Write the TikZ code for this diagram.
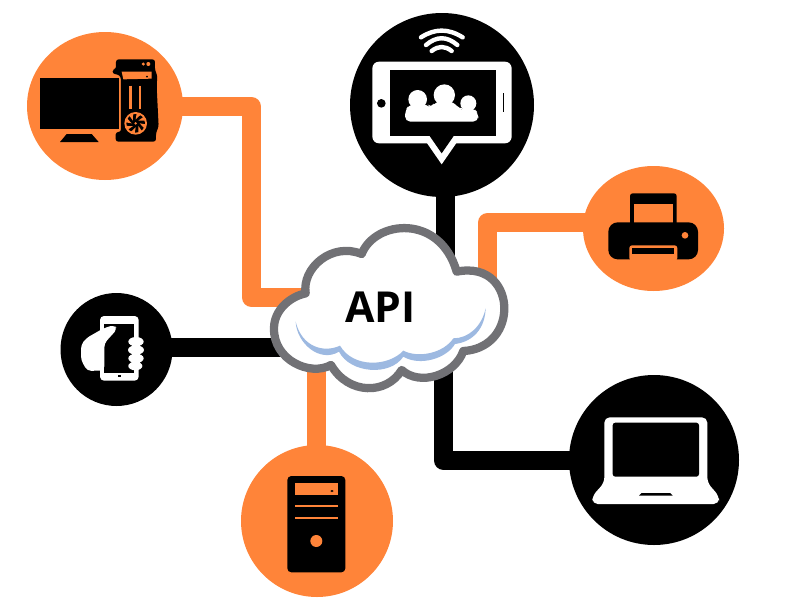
\documentclass[tikz,border=0pt]{standalone}
\usepackage{fontspec}
\setmainfont{Open Sans}
\usetikzlibrary{shapes.geometric,backgrounds}
\definecolor{apiorange}{HTML}{FF8439}
\definecolor{apigrey}{HTML}{717175}
\definecolor{apiblue}{HTML}{9DB9E1}
\tikzset{
  hub/.style={ellipse,inner sep=0pt,outer sep=0pt},
  hubo/.style={hub,fill=apiorange},
  hubk/.style={hub,fill=black},
  conn/.style={line width=14.25pt,line join=round},
  conno/.style={conn,draw=apiorange},
  connk/.style={conn,draw=black},
  zoomed/.style={scale=1/3},
  cloudline/.style={draw=apigrey,fill=white,line width=6.2pt,line join=round},
}
\begin{document}
\begin{tikzpicture}[x=0.75pt,y=-0.75pt]
\useasboundingbox (0,0) rectangle (800,600);

% device circles
\node[hubo,minimum width=117pt,minimum height=111pt] (desk) at (105,106) {};
\node[hubk,minimum width=138pt,minimum height=138pt] (tablet) at (442,105) {};
\node[hubo,minimum width=105.75pt,minimum height=93.75pt] (printer) at (653.5,228.5) {};
\node[hubk,minimum width=84pt,minimum height=84.75pt] (phone) at (116.5,349.5) {};
\node[hubo,minimum width=114pt,minimum height=114pt] (tower) at (317,521) {};
\node[hubk,minimum width=127.5pt,minimum height=127.5pt] (laptop) at (654,460) {};

% cloud ports and bends
\coordinate (bendA) at (251.5,106.5);
\coordinate (portA) at (330,297.5);
\coordinate (portB) at (320,347.5);
\coordinate (bendC) at (487.5,222.5);
\coordinate (portC) at (487.5,300);
\coordinate (portD) at (445.5,260);
\coordinate (portE) at (443.5,370);
\coordinate (bendE) at (443.5,460.5);
\coordinate (portF) at (316.5,360);

\begin{scope}[on background layer]
\draw[conno] (desk.center |- bendA) -- (bendA) -- (bendA |- portA) -- (portA);
\draw[connk] (phone.center |- portB) -- (portB);
\draw[conno] (printer.center |- bendC) -- (bendC) -- (portC);
\draw[connk] (tablet.center -| portD) -- (portD);
\draw[connk] (portE) -- (bendE) -- (laptop.center |- bendE);
\draw[conno] (tower.center -| portF) -- (portF);
\end{scope}

% cloud
\begin{scope}[shift={(260,210)},zoomed]
\path[cloudline] (137,250)
  .. controls (125,175) and (215,95) .. (305,132)
  .. controls (345,30) and (540,10) .. (590,185)
  .. controls (690,165) and (735,235) .. (733,300)
  .. controls (730,370) and (680,420) .. (610,423)
  .. controls (585,495) and (480,530) .. (425,480)
  .. controls (380,555) and (265,555) .. (213,465)
  .. controls (150,500) and (40,450) .. (42,355)
  .. controls (42,300) and (90,260) .. (137,250) -- cycle;
\fill[apiblue] (107,335)
  .. controls (110,400) and (180,460) .. (237,425)
  .. controls (270,490) and (390,500) .. (430,440)
  .. controls (480,470) and (560,445) .. (585,402)
  .. controls (640,395) and (675,355) .. (677,295)
  .. controls (665,350) and (625,385) .. (580,385)
  .. controls (550,430) and (475,445) .. (430,422)
  .. controls (385,470) and (280,475) .. (240,407)
  .. controls (190,430) and (125,410) .. (107,335) -- cycle;
\end{scope}
\node[inner sep=0pt,font=\bfseries\fontsize{32}{38}\selectfont] (api) at (380.7,307.3) {API};

% desktop icon
\begin{scope}[shift={(20,20)},zoomed]
\fill (60,175) rectangle (297,328);
\fill (120,366) -- (140,342) -- (215,342) -- (236,366) -- cycle;
\fill[rounded corners=2pt] (278,162) -- (278,148) -- (288,148) -- (288,118) -- (405,118) -- (405,152) -- (412,165) -- (410,200) -- (416,320) -- (408,338) -- (408,365) -- (287,365) -- (287,336) -- (303,336) -- (303,172) -- (295,163) -- cycle;
\fill[apiorange] (305,155) -- (395,155) -- (395,176) -- (310,178) -- cycle;
\fill (381,170) circle (3);
\fill[apiorange] (370,132) circle (5) (385,132) circle (6);
\draw[apiorange,line width=2pt] (332,197) -- (332,268) (360,197) -- (360,268);
\fill[apiorange] (347,310) circle (34);
\fill (347,310) circle (28);
\foreach \a in {0,45,...,315}{
  \fill[apiorange,rotate around={\a:(347,310)}] (347,298) -- (350,280) -- (362,284) -- cycle;
}
\fill[apiorange] (347,310) circle (4);
\end{scope}

% tablet icon
\begin{scope}[shift={(340,5)},zoomed]
\fill[white,rounded corners=5pt] (97,170) rectangle (515,415);
\fill[white] (258,410) -- (305,478) -- (352,410) -- cycle;
\fill (150,195) rectangle (468,393);
\fill (269,393) -- (305,445) -- (341,393) -- cycle;
\fill (124,295) circle (13);
\draw[line width=1pt] (491,265) -- (491,322);
\fill[white] (313,270) circle (32) (233,283) circle (28) (385,295) circle (24);
\fill[white,rounded corners=4pt] (195,350) -- (195,318) -- (208,298) -- (262,298) -- (274,310) -- (285,290) -- (342,290) -- (358,315) -- (368,310) -- (402,310) -- (415,325) -- (415,350) -- cycle;
\draw[white,line width=3.3pt,line cap=round] (243,97) .. controls (285,70) and (325,70) .. (368,97);
\draw[white,line width=3.3pt,line cap=round] (258,120) .. controls (290,93) and (320,93) .. (352,120);
\draw[white,line width=3.3pt,line cap=round] (275,138) .. controls (295,122) and (315,122) .. (335,138);
\end{scope}

% printer icon
\begin{scope}[shift={(570,160)},zoomed]
\fill[rounded corners=2pt] (180,100) rectangle (320,200);
\fill[apiorange] (192,133) rectangle (308,190);
\fill[rounded corners=7pt] (115,187) rectangle (384,298);
\fill[apiorange,rounded corners=2pt] (178,256) rectangle (322,302);
\fill (187,264) rectangle (313,281);
\fill[apiorange] (345,226) circle (10);
\end{scope}

% phone icon
\begin{scope}[shift={(50,285)},zoomed]
\fill[white,rounded corners=3pt] (150,93) rectangle (266,287);
\fill (163,117) rectangle (252,263);
\fill (203,269) rectangle (213,275);
\fill[white,rounded corners=3pt] (93,180) -- (108,160) -- (160,130) -- (192,120) -- (202,132) -- (172,165) -- (163,175) -- (163,256) -- (112,258) -- (93,225) -- cycle;
\fill[white] (258,170) ellipse (23 and 14) (258,195) ellipse (24 and 14) (258,220) ellipse (23 and 14) (256,243) ellipse (21 and 13);
\end{scope}

% tower icon
\begin{scope}[shift={(230,440)},zoomed]
\fill[rounded corners=3pt] (172,108) rectangle (346,397);
\fill[apiorange] (195,130) rectangle (323,164);
\fill (306,153) ellipse (5 and 3);
\draw[apiorange,line width=1.5pt] (195,198) -- (323,198) (195,233) -- (323,233);
\fill[apiorange] (259,303) circle (18);
\end{scope}

% laptop icon
\begin{scope}[shift={(560,370)},zoomed]
\fill[white,rounded corners=4pt] (133,338) -- (133,142) -- (442,142) -- (442,338) -- (477,378) -- (477,402) -- (97,402) -- (97,378) -- cycle;
\fill[rounded corners=2pt] (158,158) rectangle (417,320);
\fill (237,377) -- (245,369) -- (330,369) -- (338,377) -- cycle;
\end{scope}
\end{tikzpicture}
\end{document}
